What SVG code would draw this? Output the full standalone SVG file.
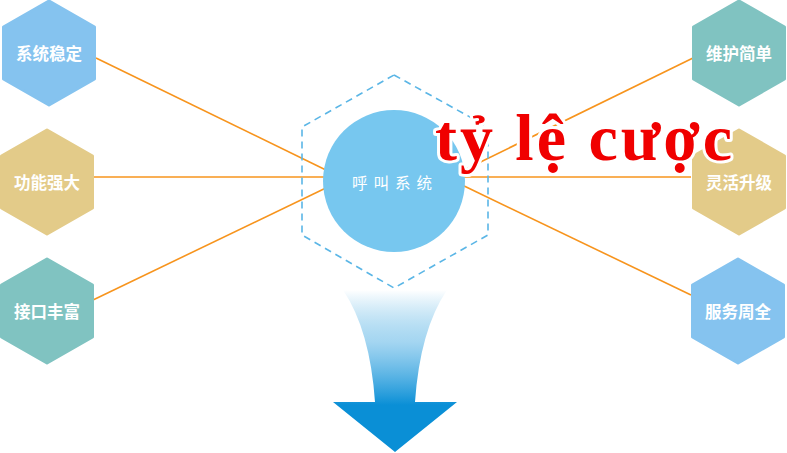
<svg xmlns="http://www.w3.org/2000/svg" width="787" height="453" viewBox="0 0 787 453">
<style>
.lbl{font-family:"Noto Sans CJK SC","Noto Sans",sans-serif;font-size:16.5px;font-weight:bold;fill:#fff;text-anchor:middle;dominant-baseline:central}
.ln{stroke:#F7941D;stroke-width:1.6;fill:none}
.blue{fill:#85C3EF;stroke:#85C3EF}
.gold{fill:#E3CB89;stroke:#E3CB89}
.teal{fill:#80C3C1;stroke:#80C3C1}
.hex{stroke-width:3;stroke-linejoin:round}
</style>
<defs>
<polygon id="hx" points="0,-52 45.5,-26 45.5,26 0,52 -45.5,26 -45.5,-26"/>
<linearGradient id="ag" x1="0" y1="290" x2="0" y2="405" gradientUnits="userSpaceOnUse">
<stop offset="0" stop-color="#0A8FD6" stop-opacity="0"/>
<stop offset="0.45" stop-color="#5AB4E6" stop-opacity="0.55"/>
<stop offset="1" stop-color="#0A8FD6"/>
</linearGradient>
</defs>
<g id="connectors">
<line class="ln" x1="96" y1="58" x2="330" y2="172"/>
<line class="ln" x1="93" y1="177" x2="330" y2="177"/>
<line class="ln" x1="93" y1="300" x2="330" y2="186"/>
<line class="ln" x1="693" y1="58" x2="460" y2="172"/>
<line class="ln" x1="691" y1="177" x2="460" y2="177"/>
<line class="ln" x1="691" y1="295" x2="460" y2="184"/>
</g>
<g id="frame">
<polygon points="394,75 488,127 488,235 394,288 302,235 302,127" fill="none" stroke="#5BB6E6" stroke-width="1.6" stroke-dasharray="7,5" stroke-linejoin="round"/>
</g>
<g id="arrow">
<path d="M343,290 L447,290 Q420,330 415,402 L457,402 L395,452 L333,402 L375,402 Q370,330 343,290 Z" fill="url(#ag)"/>
</g>
<g id="center">
<circle cx="394" cy="181" r="71" fill="#77C7EF"/>
<text x="395" y="182" style="font-family:'Noto Sans CJK SC',sans-serif;font-size:15.5px;fill:#fff;text-anchor:middle;dominant-baseline:central;letter-spacing:6px">呼叫系统</text>
</g>
<g id="n1"><use href="#hx" x="49" y="53" class="blue hex"/><text class="lbl" x="49" y="53">系统稳定</text></g>
<g id="n2"><use href="#hx" x="47" y="182" class="gold hex"/><text class="lbl" x="47" y="182">功能强大</text></g>
<g id="n3"><use href="#hx" x="47" y="311" class="teal hex"/><text class="lbl" x="47" y="311">接口丰富</text></g>
<g id="n4"><use href="#hx" x="739" y="53" class="teal hex"/><text class="lbl" x="739" y="53">维护简单</text></g>
<g id="n5"><use href="#hx" x="739" y="182" class="gold hex"/><text class="lbl" x="739" y="182">灵活升级</text></g>
<g id="n6"><use href="#hx" x="738" y="311" class="blue hex"/><text class="lbl" x="738" y="311">服务周全</text></g>
<g id="overlay">
<text x="435" y="160" textLength="297" lengthAdjust="spacing" style="font-family:'Liberation Serif',serif;font-weight:bold;font-size:66px;fill:#F00000;stroke:#fff;stroke-width:6;paint-order:stroke;stroke-linejoin:round">tỷ lệ cược</text>
</g>
</svg>
